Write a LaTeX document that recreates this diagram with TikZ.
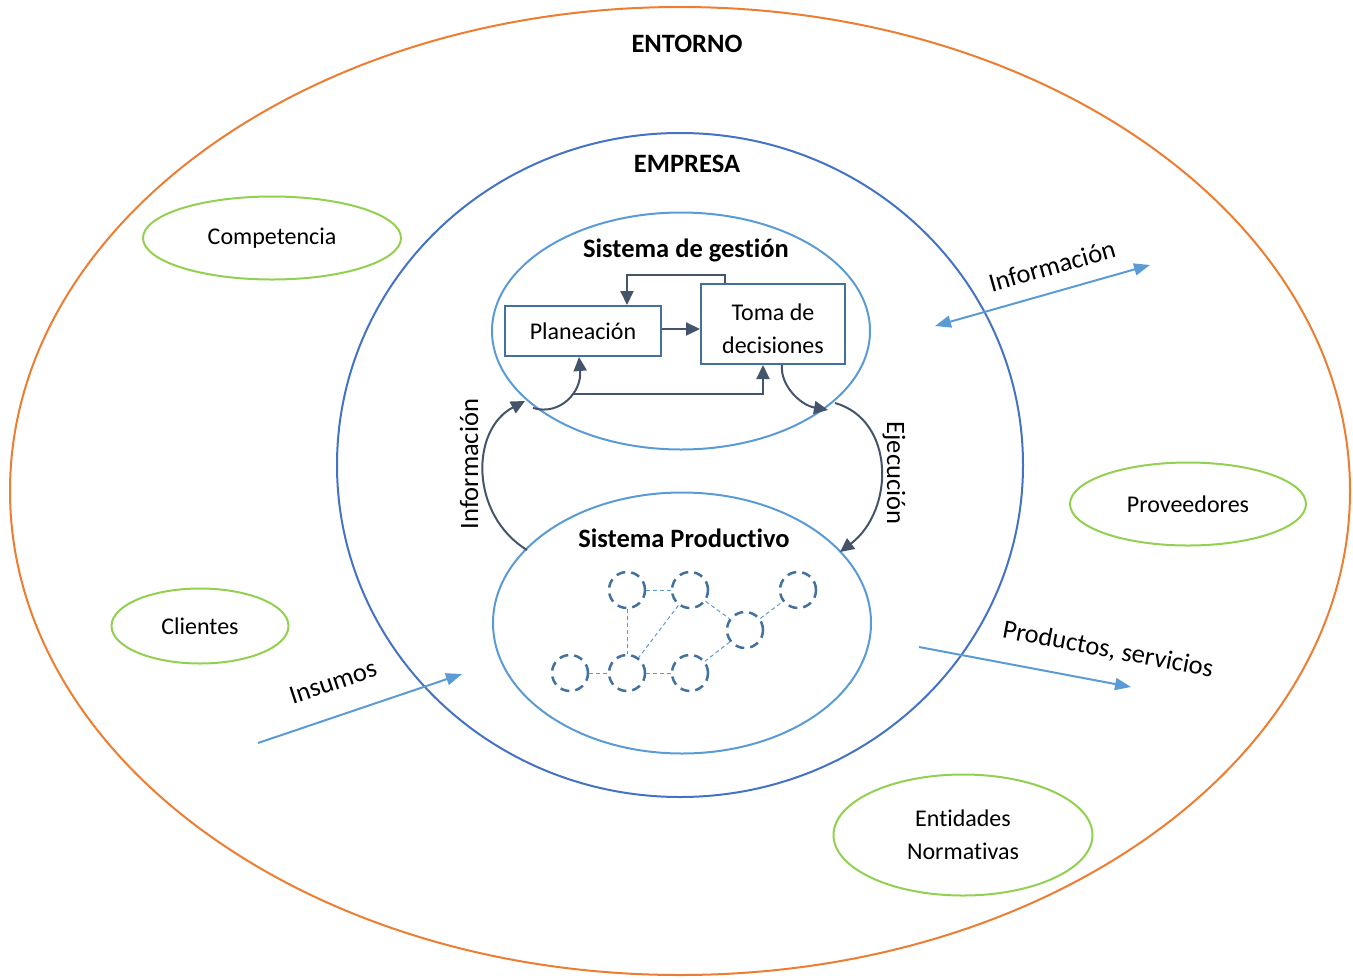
\documentclass[tikz,border=0pt]{standalone}
\usepackage{fontspec}
\setmainfont[Ligatures=NoCommon]{Carlito}
\usetikzlibrary{arrows.meta,shapes.geometric,calc}
\definecolor{orangeE}{HTML}{ED7D31}
\definecolor{blueE}{HTML}{4472C4}
\definecolor{lightB}{HTML}{5B9BD5}
\definecolor{greenE}{HTML}{92D050}
\definecolor{slateA}{HTML}{44546A}
\definecolor{boxB}{HTML}{41719C}
\tikzset{
  ring/.style={ellipse, inner sep=0pt, line width=2pt},
  actor/.style={ellipse, draw=greenE, line width=2pt, inner sep=0pt, align=center},
  procbox/.style={rectangle, draw=boxB, line width=2pt, align=center, inner sep=0pt},
  darr/.style={draw=slateA, line width=2pt, -{Triangle[length=14pt,width=13pt]}},
  barr/.style={draw=lightB, line width=2pt, -{Triangle[length=16pt,width=12pt]}},
  unit/.style={circle, draw=boxB, line width=2.5pt, dash pattern=on 9pt off 6pt, minimum size=36pt, inner sep=0pt},
  link/.style={draw=lightB, line width=1pt, dash pattern=on 4pt off 3pt},
  txt/.style={font=\fontsize{24}{33}\selectfont},
  flow/.style={font=\fontsize{26.5}{30}\selectfont},
  ttl/.style={font=\fontsize{26.5}{30}\selectfont\bfseries},
}
\begin{document}
\begin{tikzpicture}[x=1pt,y=-1pt]
\useasboundingbox (0,0) rectangle (1353,978);

% nested systems
\node[ring, draw=orangeE, minimum width=1340pt, minimum height=968pt] (entorno) at (680,491) {};
\node[ring, draw=blueE, minimum width=686pt, minimum height=664pt] (empresa) at (680,465) {};
\node[ring, draw=lightB, minimum width=378pt, minimum height=237pt] (gestion) at (681,331) {};
\node[ring, draw=lightB, minimum width=378pt, minimum height=261pt] (prod) at (682,623) {};

\node[ttl] (tEntorno) at (687,44) {ENTORNO};
\node[ttl] (tEmpresa) at (687,164) {EMPRESA};
\node[ttl] (tGestion) at (686,250) {Sistema de gestión};
\node[ttl] (tProd) at (684,538) {Sistema Productivo};

% external actors
\node[actor, txt, minimum width=258pt, minimum height=83pt] (comp) at (272,238) {Competencia};
\node[actor, txt, minimum width=177pt, minimum height=75pt] (cli) at (200,626) {Clientes};
\node[actor, txt, minimum width=236pt, minimum height=83pt] (prov) at (1188,504) {Proveedores};
\node[actor, txt, minimum width=259pt, minimum height=121pt] (ent) at (963,835) {Entidades\\Normativas};

% management boxes
\node[procbox, txt, minimum width=156pt, minimum height=50pt] (plan) at (583,331) {Planeación};
\node[procbox, minimum width=144pt, minimum height=80pt] (toma) at (773,324) {};
\node[txt, align=center, inner sep=0pt] (tomaTxt) at (773,329) {Toma de\\decisiones};

\draw[darr] ([yshift=2pt]plan.east) -- ([yshift=2pt]plan.east -| toma.west);
\draw[darr] ([xshift=25pt]toma.north west) -- ++(0,-8) -| ([xshift=123pt]plan.north west);
\coordinate (loopA) at (533,408);
\coordinate (loopB) at (572,394);
\draw[darr] (loopA) .. controls (560,416) and (582,392) .. ([xshift=75pt]plan.south west);
\draw[darr] (loopB) -| ([xshift=63pt]toma.south west);

% feedback between the two systems
\coordinate (infoS) at (527,550);
\coordinate (infoE) at (525,401);
\coordinate (ejeA) at (828,410);
\coordinate (ejeS) at (835,403);
\coordinate (ejeE) at (840,552);
\draw[darr] (infoS) .. controls (470,515) and (470,430) .. (infoE);
\draw[darr] ([xshift=82pt]toma.south west) .. controls (780,385) and (800,405) .. (ejeA);
\draw[darr] (ejeS) .. controls (895,420) and (895,510) .. (ejeE);
\node[flow, rotate=90] (lInfo) at (469,464) {Información};
\node[flow, rotate=-90] (lEje) at (894,473) {Ejecución};

% production network
\node[unit] (n1) at (627,590) {};
\node[unit] (n2) at (690,590) {};
\node[unit] (n3) at (798,590) {};
\node[unit] (n4) at (745,630) {};
\node[unit] (n5) at (570,673) {};
\node[unit] (n6) at (627,673) {};
\node[unit] (n7) at (690,673) {};
\draw[link] (n1) -- (n2);
\draw[link] (n1) -- (n6);
\draw[link] (n2) -- (n6);
\draw[link] (n2) -- (n4);
\draw[link] (n4) -- (n3);
\draw[link] (n4) -- (n7);
\draw[link] (n5) -- (n6);
\draw[link] (n6) -- (n7);

% exchanges with the environment
\coordinate (infA) at (935,326);
\coordinate (infB) at (1150,265);
\draw[barr, {Triangle[length=16pt,width=12pt]}-{Triangle[length=16pt,width=12pt]}] (infA) -- (infB);
\node[flow, rotate=15.8] (lInfE) at (1052,266) {Información};

\coordinate (insA) at (258,743);
\coordinate (insB) at (462,674);
\draw[barr] (insA) -- (insB);
\node[flow, rotate=18.5] (lIns) at (333,682) {Insumos};

\coordinate (proA) at (919,647);
\coordinate (proB) at (1131,687);
\draw[barr] (proA) -- (proB);
\node[flow, rotate=-10.7] (lPro) at (1108,650) {Productos, servicios};
\end{tikzpicture}
\end{document}
